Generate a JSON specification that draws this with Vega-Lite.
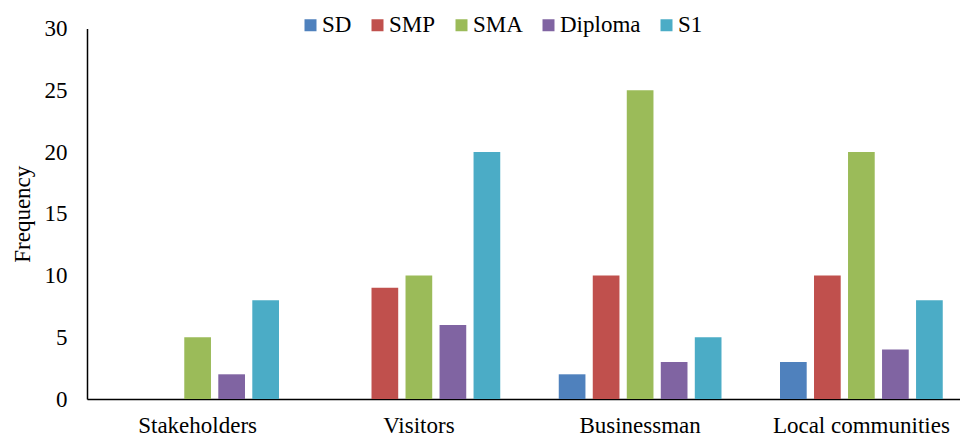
{
  "$schema": "https://vega.github.io/schema/vega-lite/v6.json",
  "autosize": "none",
  "width": 873,
  "height": 370.5,
  "padding": {"left": 87, "top": 28.5, "right": 0, "bottom": 40},
  "background": "white",
  "config": {
    "font": "Liberation Serif",
    "view": {"stroke": null},
    "axis": {"labelFont": "Liberation Serif", "titleFont": "Liberation Serif", "labelColor": "black", "titleColor": "black", "domainColor": "black", "labelFontSize": 23, "titleFontSize": 23, "titleFontWeight": "normal", "grid": false, "ticks": false},
    "legend": {"labelFont": "Liberation Serif", "labelFontSize": 23, "labelColor": "black"}
  },
  "data": {
    "values": [
      {"group": "Stakeholders", "level": "SD", "freq": 0},
      {"group": "Stakeholders", "level": "SMP", "freq": 0},
      {"group": "Stakeholders", "level": "SMA", "freq": 5},
      {"group": "Stakeholders", "level": "Diploma", "freq": 2},
      {"group": "Stakeholders", "level": "S1", "freq": 8},
      {"group": "Visitors", "level": "SD", "freq": 0},
      {"group": "Visitors", "level": "SMP", "freq": 9},
      {"group": "Visitors", "level": "SMA", "freq": 10},
      {"group": "Visitors", "level": "Diploma", "freq": 6},
      {"group": "Visitors", "level": "S1", "freq": 20},
      {"group": "Businessman", "level": "SD", "freq": 2},
      {"group": "Businessman", "level": "SMP", "freq": 10},
      {"group": "Businessman", "level": "SMA", "freq": 25},
      {"group": "Businessman", "level": "Diploma", "freq": 3},
      {"group": "Businessman", "level": "S1", "freq": 5},
      {"group": "Local communities", "level": "SD", "freq": 3},
      {"group": "Local communities", "level": "SMP", "freq": 10},
      {"group": "Local communities", "level": "SMA", "freq": 20},
      {"group": "Local communities", "level": "Diploma", "freq": 4},
      {"group": "Local communities", "level": "S1", "freq": 8}
    ]
  },
  "mark": {"type": "bar"},
  "encoding": {
    "x": {
      "field": "group", "type": "nominal",
      "sort": ["Stakeholders", "Visitors", "Businessman", "Local communities"],
      "scale": {"paddingInner": 0, "paddingOuter": 0, "range": [0, 885]},
      "axis": {"title": null, "labelAngle": 0, "labelPadding": 15, "domainWidth": 1.5}
    },
    "xOffset": {
      "field": "level", "type": "nominal",
      "sort": ["SD", "SMP", "SMA", "Diploma", "S1"],
      "scale": {"paddingInner": 0.215, "paddingOuter": 0.86}
    },
    "y": {
      "field": "freq", "type": "quantitative",
      "scale": {"domain": [0, 30], "nice": false},
      "axis": {"title": "Frequency", "values": [0, 5, 10, 15, 20, 25, 30], "labelPadding": 20, "titlePadding": 10, "domainWidth": 1.5}
    },
    "color": {
      "field": "level", "type": "nominal",
      "sort": ["SD", "SMP", "SMA", "Diploma", "S1"],
      "scale": {"domain": ["SD", "SMP", "SMA", "Diploma", "S1"], "range": ["#4F81BD", "#C0504D", "#9BBB59", "#8064A2", "#4BACC6"]},
      "legend": {"title": null, "orient": "none", "direction": "horizontal", "legendX": 212, "legendY": -15, "symbolType": "square", "symbolSize": 144, "symbolStrokeWidth": 0, "labelOffset": 0, "columnPadding": 14, "labelFont": "Liberation Serif", "labelFontSize": 23, "labelColor": "black"}
    }
  }
}
